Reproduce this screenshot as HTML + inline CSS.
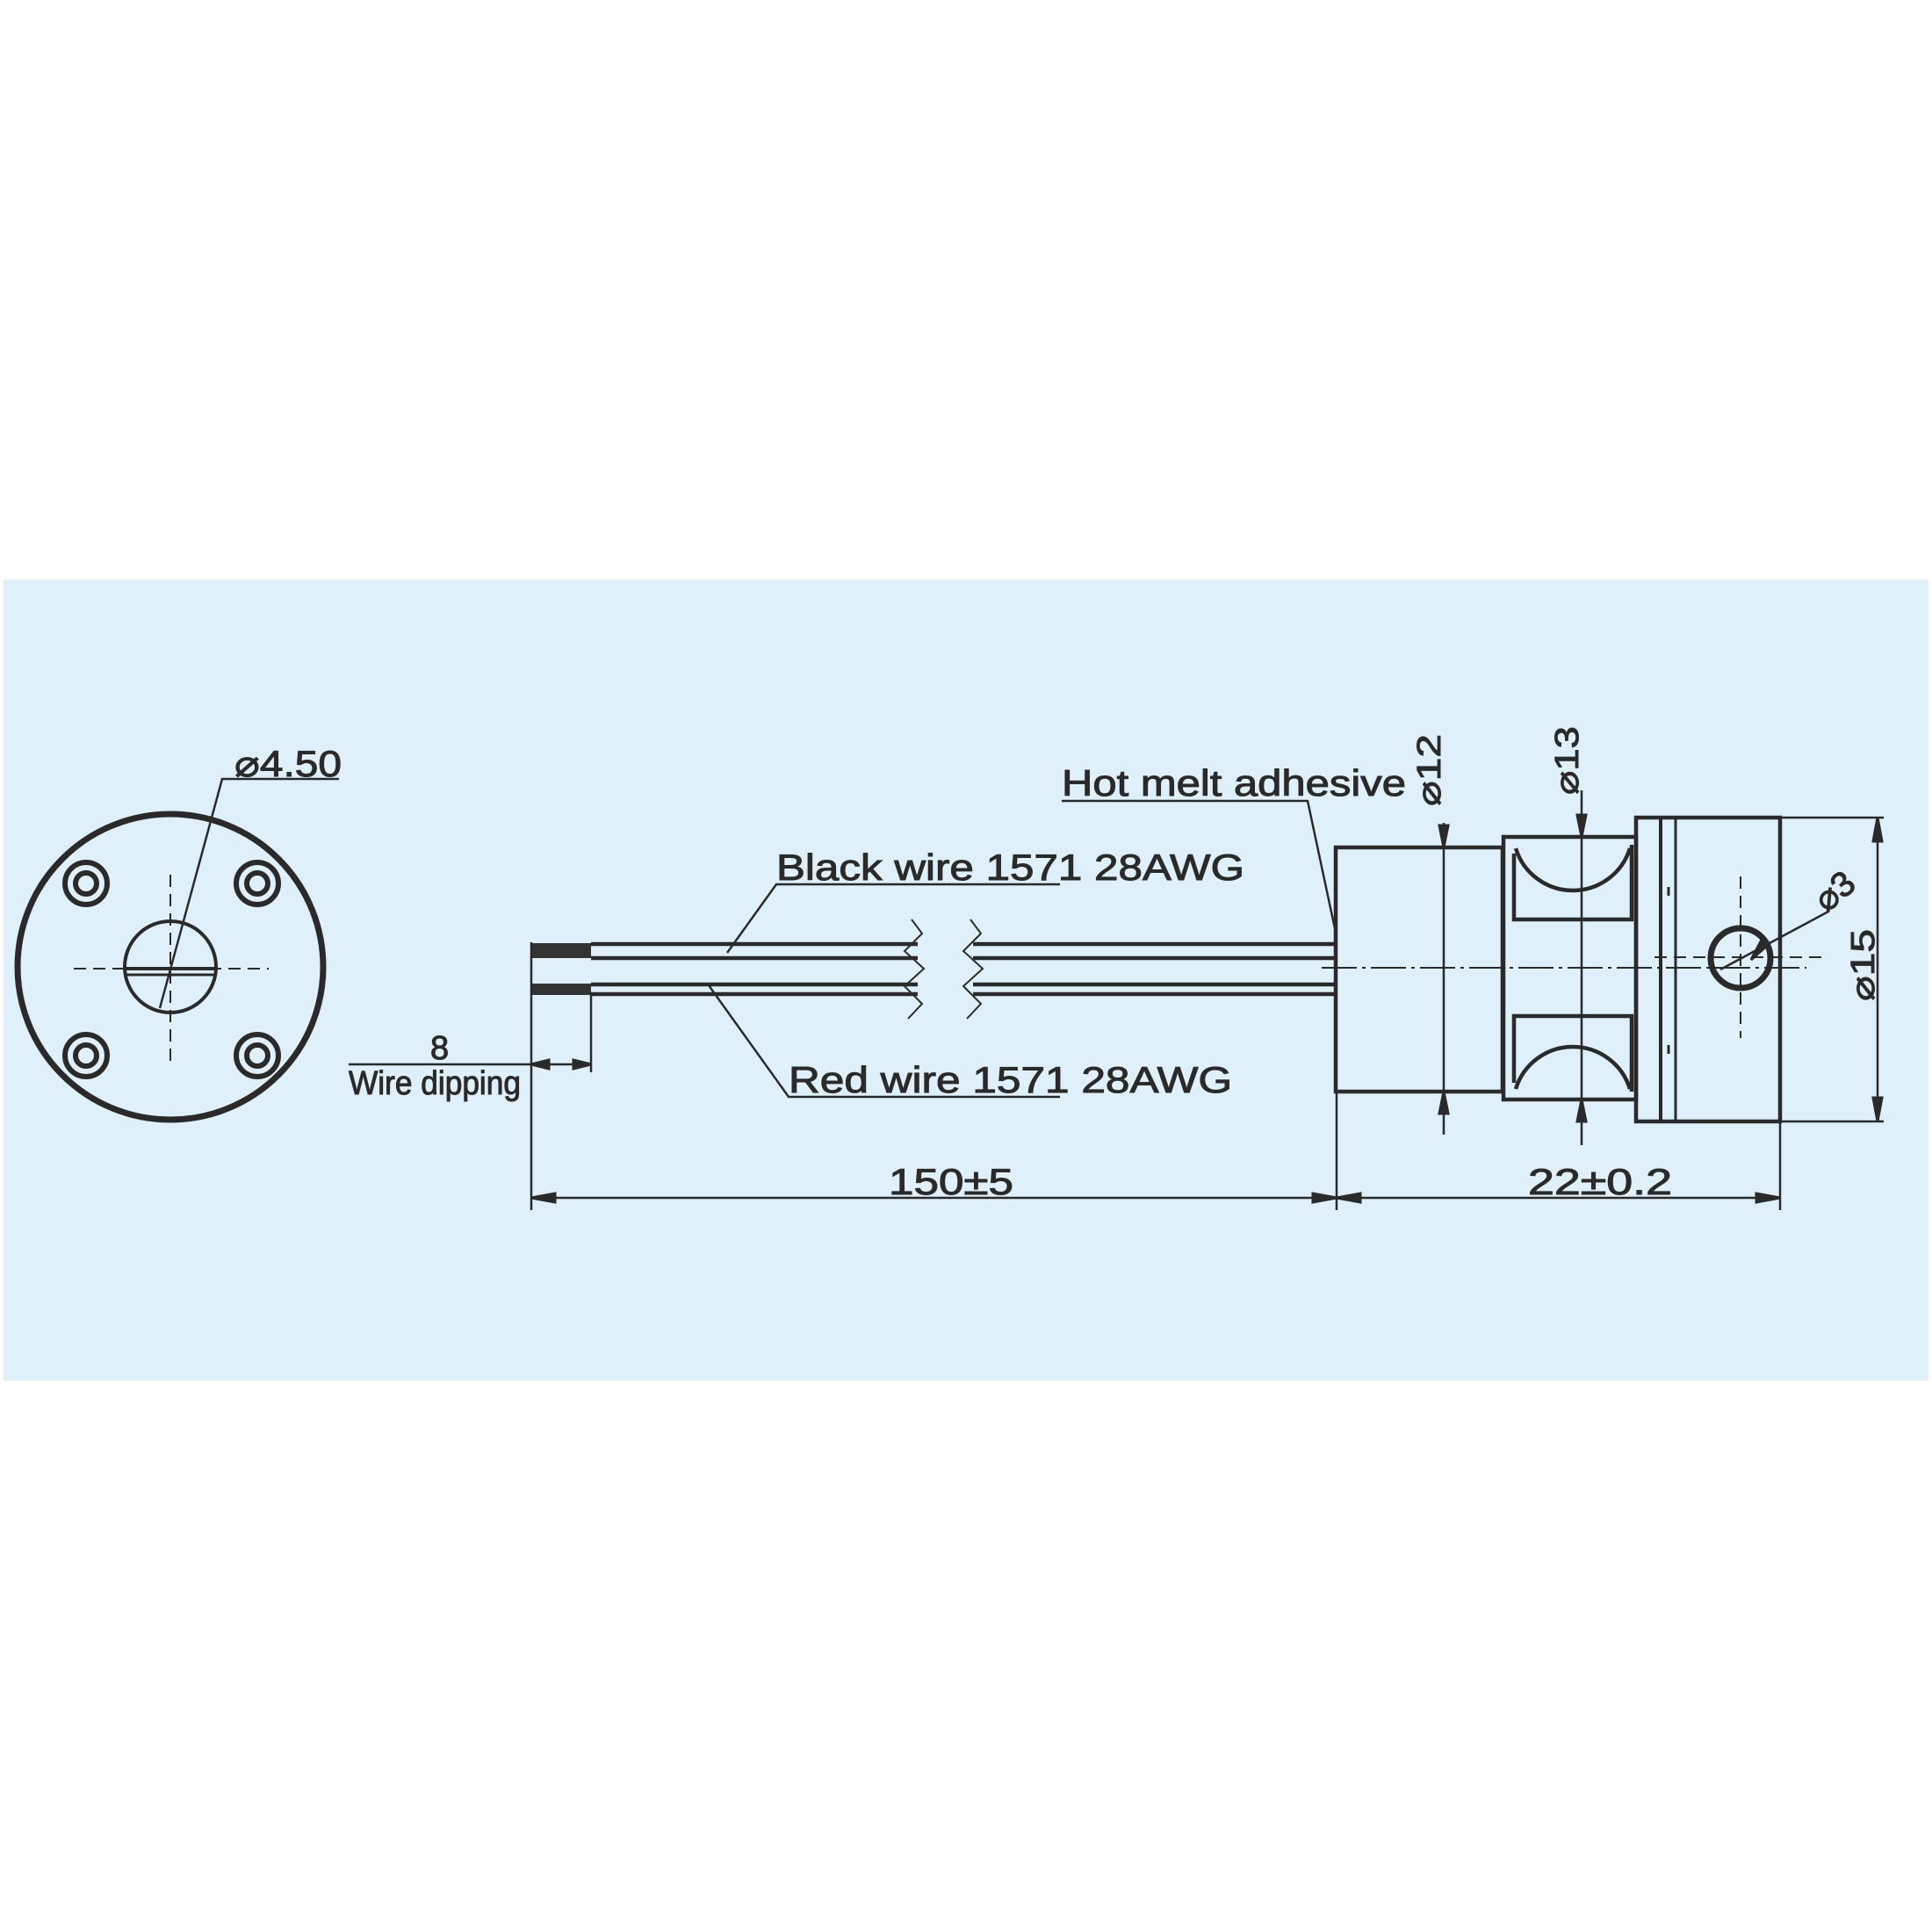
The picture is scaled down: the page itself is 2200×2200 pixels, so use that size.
<!DOCTYPE html>
<html><head><meta charset="utf-8"><style>
html,body{margin:0;padding:0;background:#fff;}
svg{display:block;}
text{font-family:"Liberation Sans",sans-serif;fill:#2a2a2a;stroke:#2a2a2a;stroke-width:1;}
</style></head><body>
<svg width="2200" height="2200" viewBox="0 0 2200 2200" xmlns="http://www.w3.org/2000/svg">
<rect x="0" y="0" width="2200" height="2200" fill="#fff"/>
<rect x="4" y="660" width="2192" height="912" fill="#dff0fa"/>
<g stroke="#2a2a2a" fill="none" stroke-width="3">
<circle cx="194" cy="1101" r="174" stroke-width="7"/>
<g stroke-width="6">
<circle cx="98" cy="1006" r="24"/><circle cx="98" cy="1006" r="12"/>
<circle cx="293" cy="1006" r="24"/><circle cx="293" cy="1006" r="12"/>
<circle cx="98" cy="1202" r="24"/><circle cx="98" cy="1202" r="12"/>
<circle cx="293" cy="1202" r="24"/><circle cx="293" cy="1202" r="12"/>
</g>
<circle cx="194" cy="1101" r="52" stroke-width="4"/>
<line x1="143" y1="1103" x2="245" y2="1103" stroke-width="4"/>
<line x1="143" y1="1110" x2="245" y2="1110" stroke-width="3"/>
<line x1="84" y1="1103" x2="306" y2="1103" stroke-dasharray="14,8" stroke-width="2"/>
<line x1="194" y1="996" x2="194" y2="1214" stroke-dasharray="14,8" stroke-width="2"/>
<polyline points="182,1148 253,887 386,887" stroke-width="2.5"/>
<rect x="605" y="1074" width="68" height="17" fill="#333" stroke="none"/>
<rect x="605" y="1120" width="68" height="13" fill="#333" stroke="none"/>
<line x1="673" y1="1075" x2="1045" y2="1075" stroke-width="4.5"/>
<line x1="673" y1="1091" x2="1045" y2="1091" stroke-width="4.5"/>
<line x1="673" y1="1121" x2="1045" y2="1121" stroke-width="4.5"/>
<line x1="673" y1="1132" x2="1045" y2="1132" stroke-width="4.5"/>
<line x1="1108" y1="1075" x2="1522" y2="1075" stroke-width="4.5"/>
<line x1="1108" y1="1091" x2="1522" y2="1091" stroke-width="4.5"/>
<line x1="1108" y1="1121" x2="1522" y2="1121" stroke-width="4.5"/>
<line x1="1108" y1="1132" x2="1522" y2="1132" stroke-width="4.5"/>
<polyline points="1038,1047 1050,1063 1030,1083 1052,1103 1030,1123 1050,1143 1034,1160" stroke-width="2"/>
<polyline points="1105,1047 1117,1063 1097,1083 1119,1103 1097,1123 1117,1143 1101,1160" stroke-width="2"/>
<polyline points="828,1085 884,1007 1207,1007" stroke-width="2.5"/>
<polyline points="807,1122 898,1249 1207,1249" stroke-width="2.5"/>
<line x1="605" y1="1073" x2="605" y2="1378" stroke-width="2.5"/>
<line x1="673" y1="1130" x2="673" y2="1221" stroke-width="2.5"/>
<line x1="397" y1="1212" x2="673" y2="1212" stroke-width="2.5"/>
<polygon points="605,1212 625,1207 625,1217" fill="#2a2a2a"/>
<polygon points="673,1212 653,1207 653,1217" fill="#2a2a2a"/>
<line x1="605" y1="1364" x2="1522" y2="1364" stroke-width="2.5"/>
<polygon points="605,1364 632,1359 632,1369" fill="#2a2a2a"/>
<polygon points="1522,1364 1495,1359 1495,1369" fill="#2a2a2a"/>
<line x1="1522" y1="1242" x2="1522" y2="1378" stroke-width="2.5"/>
<line x1="1522" y1="1364" x2="2027" y2="1364" stroke-width="2.5"/>
<polygon points="1522,1364 1549,1359 1549,1369" fill="#2a2a2a"/>
<polygon points="2027,1364 2000,1359 2000,1369" fill="#2a2a2a"/>
<line x1="2027" y1="1270" x2="2027" y2="1378" stroke-width="2.5"/>
<rect x="1521" y="965" width="190" height="278" stroke-width="4.5"/>
<rect x="1712" y="953" width="151" height="299" stroke-width="4.5"/>
<path d="M1724 972 L1724 1047 L1858 1047 L1858 962 M1726 966 A68 68 0 0 0 1856 966" stroke-width="4.5"/>
<path d="M1724 1233 L1724 1157 L1858 1157 L1858 1243 M1726 1240 A68 68 0 0 1 1856 1240" stroke-width="4.5"/>
<rect x="1863" y="931" width="164" height="346" stroke-width="4.5"/>
<line x1="1891" y1="931" x2="1891" y2="1277" stroke-width="4"/>
<line x1="1908" y1="931" x2="1908" y2="1277" stroke-width="3"/>
<line x1="1900" y1="1010" x2="1900" y2="1020" stroke-width="3"/>
<line x1="1900" y1="1190" x2="1900" y2="1200" stroke-width="3"/>
<circle cx="1982" cy="1091" r="34" stroke-width="7"/>
<line x1="1884" y1="1090" x2="2075" y2="1090" stroke-dasharray="14,8" stroke-width="2"/>
<line x1="1982" y1="998" x2="1982" y2="1182" stroke-dasharray="14,8" stroke-width="2"/>
<line x1="1959" y1="1104" x2="2082" y2="1038" stroke-width="2.5"/>
<polygon points="2014,1075 1994,1093 2006,1070" fill="#2a2a2a"/>
<line x1="1505" y1="1102" x2="2057" y2="1102" stroke-dasharray="40,6,4,6" stroke-width="2"/>
<line x1="1209" y1="912" x2="1490" y2="912" stroke-width="2.5"/>
<line x1="1489" y1="912" x2="1521" y2="1062" stroke-width="2.5"/>
<line x1="1644" y1="937" x2="1644" y2="1292" stroke-width="2.5"/>
<polygon points="1644,965 1639,940 1649,940" fill="#2a2a2a"/>
<polygon points="1644,1243 1639,1268 1649,1268" fill="#2a2a2a"/>
<line x1="1801" y1="900" x2="1801" y2="1304" stroke-width="2.5"/>
<polygon points="1801,953 1796,928 1806,928" fill="#2a2a2a"/>
<polygon points="1801,1252 1796,1277 1806,1277" fill="#2a2a2a"/>
<line x1="2027" y1="931" x2="2145" y2="931" stroke-width="2.5"/>
<line x1="2027" y1="1277" x2="2145" y2="1277" stroke-width="2.5"/>
<line x1="2138" y1="931" x2="2138" y2="1277" stroke-width="2.5"/>
<polygon points="2138,931 2133,958 2143,958" fill="#2a2a2a"/>
<polygon points="2138,1277 2133,1250 2143,1250" fill="#2a2a2a"/>
</g>
<g font-size="42">
<text x="267" y="884" textLength="122" lengthAdjust="spacingAndGlyphs">⌀4.50</text>
<text x="884" y="1002" textLength="533" lengthAdjust="spacingAndGlyphs">Black wire 1571 28AWG</text>
<text x="898" y="1244" textLength="505" lengthAdjust="spacingAndGlyphs">Red wire 1571 28AWG</text>
<text x="1209" y="906" textLength="392" lengthAdjust="spacingAndGlyphs">Hot melt adhesive</text>
<text x="1012" y="1360" textLength="142" lengthAdjust="spacingAndGlyphs">150±5</text>
<text x="1740" y="1360" textLength="164" lengthAdjust="spacingAndGlyphs">22±0.2</text>
<text x="490" y="1206" font-size="38">8</text>
<text x="397" y="1246" font-size="38" textLength="196" lengthAdjust="spacingAndGlyphs">Wire dipping</text>
<text transform="translate(1640,918) rotate(-90)" font-size="38" textLength="82" lengthAdjust="spacingAndGlyphs">⌀12</text>
<text transform="translate(1797,905) rotate(-90)" font-size="38" textLength="78" lengthAdjust="spacingAndGlyphs">⌀13</text>
<text transform="translate(2134,1140) rotate(-90)" font-size="38" textLength="82" lengthAdjust="spacingAndGlyphs">⌀15</text>
<text transform="translate(2080,1040) rotate(-40)" font-size="40">⌀3</text>
</g>
</svg>
</body></html>
